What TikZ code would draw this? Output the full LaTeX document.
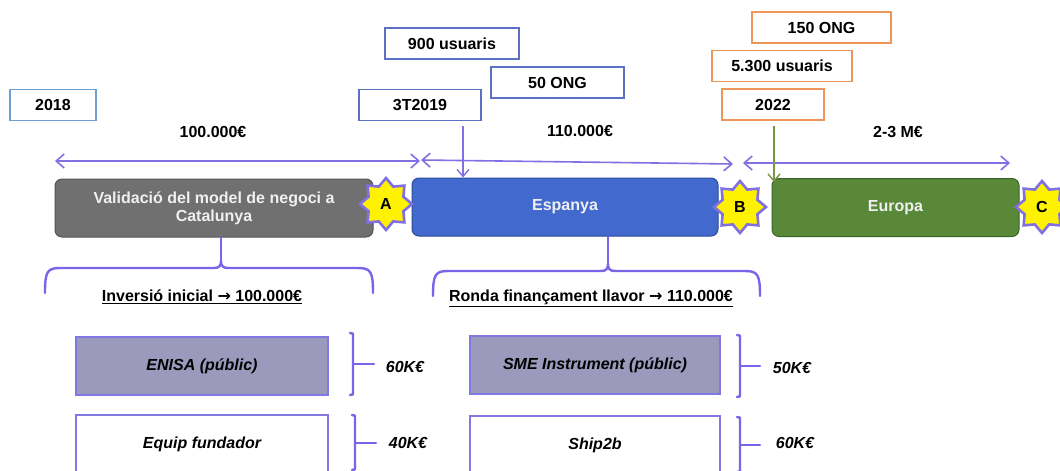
\documentclass[tikz,border=0pt]{standalone}
\usepackage{fontspec}
\setmainfont{Liberation Sans}
\newfontfamily\arrowfont{DejaVu Sans}
\usetikzlibrary{shapes.geometric,arrows.meta}

\definecolor{linepurple}{RGB}{128,112,228}
\definecolor{bracepurple}{RGB}{122,100,232}
\definecolor{tagblue}{RGB}{92,112,196}
\definecolor{taglight}{RGB}{110,160,216}
\definecolor{tagorange}{RGB}{238,150,90}
\definecolor{phasegray}{RGB}{112,112,112}
\definecolor{phasegrayline}{RGB}{85,85,85}
\definecolor{phaseblue}{RGB}{66,106,206}
\definecolor{phaseblueline}{RGB}{45,75,150}
\definecolor{phasegreen}{RGB}{88,136,56}
\definecolor{phasegreenline}{RGB}{60,100,40}
\definecolor{fundfill}{RGB}{156,154,188}
\definecolor{fundline}{RGB}{130,120,225}
\definecolor{arrowgreen}{RGB}{120,150,70}

\newcommand{\thenarrow}{{\arrowfont\bfseries →}}

\begin{document}
\begin{tikzpicture}[x=1pt,y=-1pt,
  font=\fontsize{16}{18}\selectfont\bfseries,
  tag/.style={draw=#1, line width=1.2pt, fill=white, minimum height=31pt, inner sep=0pt, text=black},
  phase/.style={rounded corners=7pt, line width=1pt, text=white!94!black, minimum height=58pt, inner sep=2pt, align=center},
  milestone/.style={star, star points=8, star point ratio=1.38, minimum size=52pt, inner sep=0pt,
                    fill=yellow, draw=linepurple, line width=2.6pt, text=black},
  fund/.style={draw=fundline, line width=1.3pt, minimum height=58pt, minimum width=252pt, inner sep=0pt,
               font=\fontsize{16}{18}\selectfont\bfseries\itshape},
  amount/.style={inner sep=0pt},
  share/.style={inner sep=0pt, font=\fontsize{16}{18}\selectfont\bfseries\itshape},
  span/.style={draw=linepurple, line width=1.6pt, {Straight Barb[length=8pt,width=14pt]}-{Straight Barb[length=8pt,width=14pt]}},
  drop/.style={line width=1.4pt, -{Straight Barb[length=7pt,width=12pt]}},
  brace/.style={draw=bracepurple, line width=2.4pt, line cap=round, line join=round}
]
\useasboundingbox (0,0) rectangle (1060,471);
\clip (0,0) rectangle (1060,471);

% date and target tags
\node[tag=taglight, minimum width=86pt]  (y2018) at (53,105)    {2018};
\node[tag=tagblue,  minimum width=122pt] (t3T)   at (420,105)   {3T2019};
\node[tag=tagblue,  minimum width=134pt] (u900)  at (452,43.5)  {900 usuaris};
\node[tag=tagblue,  minimum width=133pt] (ong50) at (557.5,82.5) {50 ONG};
\node[tag=tagorange,minimum width=139pt] (ong150) at (821.5,27.5) {150 ONG};
\node[tag=tagorange,minimum width=140pt] (u5300) at (782,66)    {5.300 usuaris};
\node[tag=tagorange,minimum width=102pt] (y2022) at (773,104.5) {2022};

% funding per phase
\node[amount] (m1) at (213,132) {100.000€};
\node[amount] (m2) at (580,131) {110.000€};
\node[amount] (m3) at (898,132) {2-3 M€};

% phase spans
\coordinate (s1a) at (55,161);  \coordinate (s1b) at (420,161);
\coordinate (s2a) at (421,160); \coordinate (s2b) at (733,164);
\coordinate (s3a) at (743,163); \coordinate (s3b) at (1010,163);
\draw[span] (s1a) -- (s1b);
\draw[span] (s2a) -- (s2b);
\draw[span] (s3a) -- (s3b);

% phases
\node[phase, fill=phasegray, draw=phasegrayline, minimum width=318pt] (cat) at (214,208)
  {Validació del model de negoci a\\Catalunya};
\node[phase, fill=phaseblue, draw=phaseblueline, minimum width=306pt] (esp) at (565,207) {Espanya};
\node[phase, fill=phasegreen, draw=phasegreenline, minimum width=247pt] (eur) at (895.5,207.5) {Europa};

% milestones
\node[milestone] (A) at (386,204) {A};
\node[milestone] (B) at (740,207) {B};
\node[milestone] (C) at (1042,207) {C};

% arrival markers
\draw[drop, draw=linepurple] ([xshift=43pt,yshift=-5pt]t3T.south) -- ([xshift=43pt]t3T.south |- esp.north);
\draw[drop, draw=arrowgreen] ([xshift=1pt,yshift=-5pt]y2022.south) -- ([xshift=1pt,yshift=-4pt]y2022.south |- eur.north);

% braces under the first two phases
\coordinate (k1) at (221,261);
\draw[brace] (cat.south -| k1) -- (k1);
\draw[brace] (45,293) .. controls (45,272) and (47,268) .. (60,268) -- (214,268)
  .. controls (219,268) and (221,266) .. (k1) .. controls (221,266) and (223,268) .. (228,268)
  -- (358,268) .. controls (371,268) and (373,272) .. (373,293);
\coordinate (k2) at (608,264);
\draw[brace] (esp.south -| k2) -- (k2);
\draw[brace] (433,296) .. controls (433,275) and (435,271) .. (448,271) -- (601,271)
  .. controls (606,271) and (608,269) .. (k2) .. controls (608,269) and (610,271) .. (615,271)
  -- (745,271) .. controls (758,271) and (760,275) .. (760,296);

\node (h1) at (202,297) {\underline{Inversió inicial \thenarrow{} 100.000€}};
\node (h2) at (591,298) {\underline{Ronda finançament llavor \thenarrow{} 110.000€}};

% funding sources
\node[fund, fill=fundfill] (enisa) at (202,366) {ENISA (públic)};
\node[fund, fill=white]    (equip) at (202,444) {Equip fundador};
\node[fund, fill=fundfill, minimum width=250pt] (sme) at (595,365) {SME Instrument (públic)};
\node[fund, fill=white,    minimum width=250pt] (ship) at (595,445) {Ship2b};

% share brackets
\draw[brace] (350,333) .. controls (353,333) .. (353,337) -- (353,391) .. controls (353,395) .. (350,395);
\draw[brace] (353,364) -- (374,364);
\draw[brace] (352,415) .. controls (355,415) .. (355,419) -- (355,466) .. controls (355,470) .. (352,470);
\draw[brace] (355,443) -- (376,443);
\draw[brace] (737,335) .. controls (740,335) .. (740,339) -- (740,393) .. controls (740,397) .. (737,397);
\draw[brace] (740,366) -- (760,366);
\draw[brace] (737,417) .. controls (740,417) .. (740,421) -- (740,468) .. controls (740,472) .. (737,472);
\draw[brace] (740,445) -- (760,445);

\node[share] (p60a) at (405,367) {60K€};
\node[share] (p40)  at (408,443) {40K€};
\node[share] (p50)  at (792,368) {50K€};
\node[share] (p60b) at (795,443) {60K€};
\end{tikzpicture}
\end{document}
